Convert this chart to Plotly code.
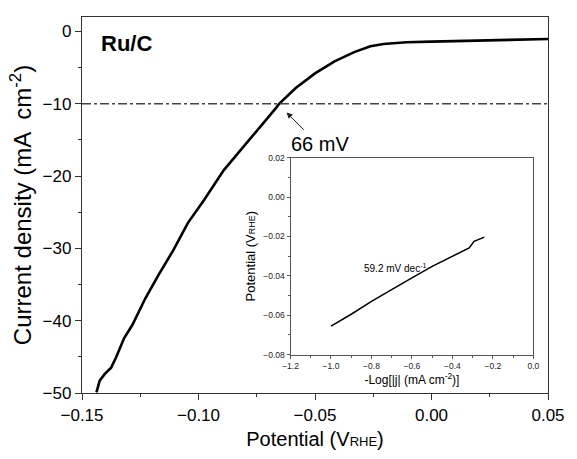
import plotly.graph_objects as go

# Main polarization curve (LSV) for Ru/C
potential = [-0.1438, -0.1424, -0.1403, -0.1375, -0.1354, -0.1319, -0.1284, -0.1228,
             -0.1172, -0.1109, -0.1046, -0.0976, -0.0892, -0.0808, -0.0724, -0.0668,
             -0.0654, -0.0584, -0.0500, -0.0416, -0.0332, -0.0262, -0.0206, -0.0150,
             -0.0108, 0.0000, 0.0088, 0.0256, 0.0380, 0.0500]
current = [-49.9, -48.3, -47.4, -46.5, -45.1, -42.4, -40.6, -36.9,
           -33.7, -30.3, -26.5, -23.3, -19.2, -16.0, -12.85, -10.6,
           -10.0, -7.86, -5.8, -4.13, -2.86, -2.04, -1.73, -1.58,
           -1.50, -1.40, -1.32, -1.20, -1.12, -1.05]

# Tafel inset
tafel_x = [-1.00, -0.90, -0.80, -0.70, -0.60, -0.50, -0.40, -0.317, -0.293, -0.26, -0.242]
tafel_y = [-0.0655, -0.0595, -0.0530, -0.0468, -0.0410, -0.0352, -0.0300, -0.0258, -0.0225, -0.0212, -0.0203]

ref_current = -10
overpot_label = "66 mV"
sample_label = "<b>Ru/C</b>"
slope_label = "59.2 mV dec<sup>-1</sup>"

FONT = "Liberation Sans, Arial, sans-serif"
AX = "#333333"

fig = go.Figure()
fig.add_trace(go.Scatter(x=potential, y=current, mode="lines",
                         line=dict(color="black", width=2.6),
                         showlegend=False, xaxis="x", yaxis="y"))
fig.add_trace(go.Scatter(x=tafel_x, y=tafel_y, mode="lines",
                         line=dict(color="black", width=1.5),
                         showlegend=False, xaxis="x2", yaxis="y2"))

fig.add_shape(type="line", xref="x", yref="y", x0=-0.15, x1=0.05, y0=ref_current, y1=ref_current,
              line=dict(color="#444444", width=1.3, dash="dashdot"))

fig.add_annotation(x=-0.0622, y=-11.2, ax=-0.0542, ay=-13.8, xref="x", yref="y",
                   axref="x", ayref="y", text="", showarrow=True, arrowhead=2,
                   arrowsize=1.2, arrowwidth=1, arrowcolor="#222222")
fig.add_annotation(x=-0.0479, y=-15.6, xref="x", yref="y", text=overpot_label,
                   showarrow=False, font=dict(family=FONT, size=20, color="black"))
fig.add_annotation(x=-0.1307, y=-1.6, xref="x", yref="y", text=sample_label,
                   showarrow=False, font=dict(family=FONT, size=22, color="black"))
fig.add_annotation(x=-0.686, y=-0.0358, xref="x2", yref="y2", text=slope_label,
                   showarrow=False, font=dict(family=FONT, size=10, color="black"))

main_axis = dict(showline=True, linecolor=AX, linewidth=1.3, mirror=True,
                 ticks="outside", ticklen=6, tickwidth=1.2, tickcolor=AX,
                 showgrid=False, zeroline=False,
                 tickfont=dict(family=FONT, size=17, color="black"))
inset_axis = dict(showline=True, linecolor="#555555", linewidth=1, mirror=True,
                  ticks="outside", ticklen=3, tickwidth=1, tickcolor="#555555",
                  showgrid=False, zeroline=False,
                  tickfont=dict(family=FONT, size=8.5, color="#222222"))

fig.update_layout(
    width=577, height=459,
    margin=dict(l=82, r=19, t=14, b=63),
    paper_bgcolor="white", plot_bgcolor="white",
    xaxis=dict(main_axis, range=[-0.15, 0.05], dtick=0.05, tick0=-0.15, tickformat=".2f",
               minor=dict(dtick=0.025, ticks="outside", ticklen=3, tickcolor=AX),
               title=dict(text="Potential (V<span style='font-size:13px'>RHE</span>)",
                          font=dict(family=FONT, size=20, color="black"), standoff=8)),
    yaxis=dict(main_axis, range=[-50, 2], dtick=10, tick0=0,
               minor=dict(dtick=5, ticks="outside", ticklen=3, tickcolor=AX),
               title=dict(text="Current density (mA  cm<sup>-2</sup>)",
                          font=dict(family=FONT, size=24, color="black"), standoff=4)),
    xaxis2=dict(inset_axis, domain=[0.4475, 0.9685], anchor="y2", range=[-1.2, 0.0],
                dtick=0.2, tick0=-1.2, tickformat=".1f",
                minor=dict(dtick=0.1, ticks="outside", ticklen=2, tickcolor="#555555"),
                title=dict(text="-Log[|j| (mA cm<sup>-2</sup>)]",
                           font=dict(family=FONT, size=12, color="black"), standoff=4)),
    yaxis2=dict(inset_axis, domain=[0.1021, 0.6257], anchor="x2", range=[-0.08, 0.02],
                dtick=0.02, tick0=0, tickformat=".2f",
                minor=dict(dtick=0.01, ticks="outside", ticklen=2, tickcolor="#555555"),
                title=dict(text="Potential (V<span style='font-size:9px'>RHE</span>)",
                           font=dict(family=FONT, size=13, color="black"), standoff=4)),
)

fig.write_html("out.html")
